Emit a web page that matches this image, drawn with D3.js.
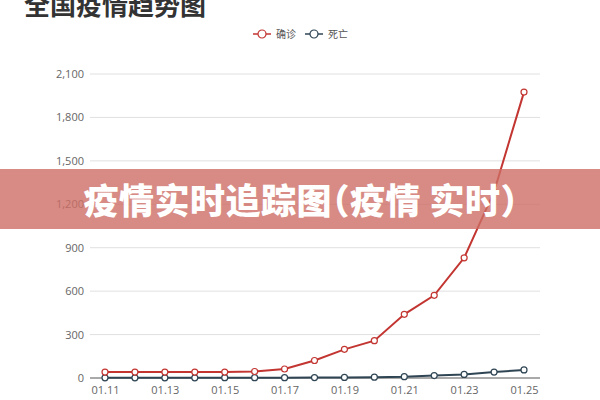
<!DOCTYPE html>
<html><head><meta charset="utf-8">
<script src="https://cdn.jsdelivr.net/npm/d3@7"></script>
<style>
html,body{margin:0;padding:0;background:#fff;}
svg{display:block;font-family:"Noto Sans CJK SC","Noto Sans",sans-serif;}
</style></head>
<body>
<svg id="c" width="600" height="400"></svg>
<script>
const dates = ["01.11","01.12","01.13","01.14","01.15","01.16","01.17","01.18","01.19","01.20","01.21","01.22","01.23","01.24","01.25"];
const confirmed = [41,41,41,41,41,45,62,121,198,258,440,571,830,1287,1975];
const deaths = [1,1,1,1,2,2,2,3,4,6,9,17,25,41,56];
const yTicks = [0,300,600,900,1200,1500,1800,2100];
const xTickLabels = ["01.11","01.13","01.15","01.17","01.19","01.21","01.23","01.25"];
const seriesNames = ["确诊","死亡"];
const seriesColors = ["#c23531","#2f4554"];
const pageTitle = "全国疫情趋势图";
const bannerText = "疫情实时追踪图（疫情 实时）";

const svg = d3.select("#c");
const x = d3.scalePoint().domain(dates).range([105, 524]);
const y = d3.scaleLinear().domain([0, 2100]).range([378, 74]);

// gridlines
svg.append("g").selectAll("line").data(yTicks.filter(d=>d>0)).join("line")
  .attr("x1", 90).attr("x2", 540)
  .attr("y1", d=>y(d)).attr("y2", d=>y(d))
  .attr("stroke", "#e0e0e0").attr("stroke-width", 1);

// y axis
const yAxis = svg.append("g").attr("transform","translate(90,0)")
  .call(d3.axisLeft(y).tickValues(yTicks).tickFormat(d3.format(",")).tickSize(0).tickPadding(6));
yAxis.select(".domain").remove();
yAxis.selectAll("text").attr("fill","#666").style("font-size","11px").style("font-family","'Open Sans','Noto Sans',sans-serif");

// x axis
const xAxis = svg.append("g").attr("transform","translate(0,378)")
  .call(d3.axisBottom(x).tickValues(xTickLabels).tickSize(0).tickPadding(8));
xAxis.select(".domain").remove();
xAxis.selectAll("text").attr("fill","#666").style("font-size","11px").style("font-family","'Open Sans','Noto Sans',sans-serif");
svg.append("line").attr("x1",90).attr("x2",540).attr("y1",y(0)).attr("y2",y(0))
  .attr("stroke","#555").attr("stroke-width",1);

// series
const seriesData = [confirmed, deaths];
const line = d3.line().x((d,i)=>x(dates[i])).y(d=>y(d));
seriesData.slice().reverse().forEach((vals, ri) => {
  const si = seriesData.length - 1 - ri;
  const g = svg.append("g");
  g.append("path").datum(vals).attr("d", line).attr("fill","none")
    .attr("stroke", seriesColors[si]).attr("stroke-width", 2);
  g.selectAll("circle").data(vals).join("circle")
    .attr("cx",(d,i)=>x(dates[i])).attr("cy",d=>y(d)).attr("r",3)
    .attr("fill","#fff").attr("stroke",seriesColors[si]).attr("stroke-width",1.2);
});

// legend
const legend = svg.append("g");
const legX = [253, 305];
seriesNames.forEach((n,i)=>{
  const g = legend.append("g").attr("transform",`translate(${legX[i]},34)`);
  g.append("line").attr("x1",0).attr("x2",18).attr("y1",0).attr("y2",0)
    .attr("stroke",seriesColors[i]).attr("stroke-width",1.5);
  g.append("circle").attr("cx",9).attr("cy",0).attr("r",4)
    .attr("fill","#fff").attr("stroke",seriesColors[i]).attr("stroke-width",1.2);
  g.append("text").attr("x",23).attr("y",4).text(n)
    .attr("fill","#555").style("font-size","10px");
});

// page title (cropped at top)
svg.append("text").attr("x",24).attr("y",15).text(pageTitle)
  .attr("fill","#333").style("font-size","26px").style("font-weight","bold");

// banner overlay
svg.append("rect").attr("x",0).attr("y",169).attr("width",600).attr("height",60)
  .attr("fill","rgb(205,110,101)").attr("fill-opacity",0.8);
svg.append("text").attr("x",301).attr("y",214).attr("text-anchor","middle").text(bannerText)
  .attr("fill","#fff").style("font-size","35px").style("font-weight","900")
  .style("letter-spacing","0.5px")
  .style("font-feature-settings","'halt' 1");
</script>
</body></html>
